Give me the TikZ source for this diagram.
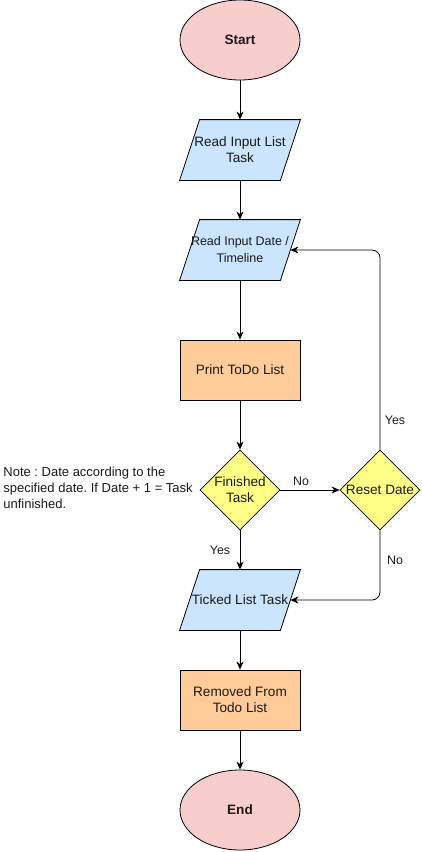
\documentclass[tikz,border=0pt]{standalone}
\usepackage{fontspec}
\setmainfont{Liberation Sans}
\usetikzlibrary{arrows.meta,shapes.geometric,backgrounds}
\definecolor{ellfill}{HTML}{F8CECC}
\definecolor{parfill}{HTML}{CCE5FF}
\definecolor{recfill}{HTML}{FFCC99}
\definecolor{diafill}{HTML}{FFFF88}
\definecolor{txt}{HTML}{1A1A1A}
\frenchspacing
\tikzset{
  base/.style={font=\fontsize{13.6}{16}\selectfont, text=txt, align=center, inner sep=0pt, line width=0.8pt},
  term/.style={base, ellipse, draw=black, fill=ellfill, minimum width=120pt, minimum height=80pt, font=\fontsize{13.6}{16}\selectfont\bfseries},
  pbox/.style={base, minimum width=120pt, minimum height=60pt},
  pshape/.style={draw=black, fill=parfill, line width=0.8pt},
  rbox/.style={base, draw=black, fill=recfill, minimum width=120pt, minimum height=60pt},
  dbox/.style={base, diamond, draw=black, fill=diafill, minimum width=80pt, minimum height=80pt, aspect=1},
  conn/.style={draw=black, line width=0.8pt, -{Stealth[length=8pt,width=7pt,inset=2.5pt]}},
  lbl/.style={base, font=\fontsize{12.4}{15}\selectfont}
}
\begin{document}
\begin{tikzpicture}[x=1pt,y=-1pt]
\useasboundingbox (0,0) rectangle (422,852);
\node[term] (start) at (240,40) {Start};
\node[pbox] (r1) at (240,150) {Read Input List\\Task};
\node[pbox, font=\fontsize{12.5}{17}\selectfont] (r2) at (240,250) {Read Input Date /\\Timeline};
\node[rbox] (print) at (240,370) {Print ToDo List};
\node[dbox] (fin) at (240,490) {Finished\\Task};
\node[dbox] (reset) at (380,490) {Reset Date};
\node[pbox] (tick) at (240,600) {Ticked List Task};
\node[rbox] (rem) at (240,700) {Removed From\\Todo List};
\node[term] (end) at (240,810) {End};
\node[base, align=left, anchor=north west, font=\fontsize{13}{16}\selectfont] (note) at (3,467) {Note : Date according to the\\specified date. If Date + 1 = Task\\unfinished.};
\begin{scope}[on background layer]
\foreach \n in {r1,r2,tick}{
  \draw[pshape] ([xshift=20pt]\n.north west) -- (\n.north east) -- ([xshift=-20pt]\n.south east) -- (\n.south west) -- cycle;
}
\end{scope}
\coordinate (r2e) at ([xshift=-10pt]r2.east);
\coordinate (ticke) at ([xshift=-10pt]tick.east);
\draw[conn] (start) -- (r1);
\draw[conn] (r1) -- (r2);
\draw[conn] (r2) -- (print);
\draw[conn] (print) -- (fin);
\draw[conn] (fin) -- (tick);
\draw[conn] (fin) -- (reset);
\draw[conn, rounded corners=8pt] (reset.north) |- (r2e);
\draw[conn, rounded corners=8pt] (reset.south) |- (ticke);
\draw[conn] (tick) -- (rem);
\draw[conn] (rem) -- (end);
\node[lbl] (yes1) at (220,550) {Yes};
\node[lbl] (no1) at (301,481) {No};
\node[lbl] (yes2) at (395,420) {Yes};
\node[lbl] (no2) at (395,560) {No};
\end{tikzpicture}
\end{document}
